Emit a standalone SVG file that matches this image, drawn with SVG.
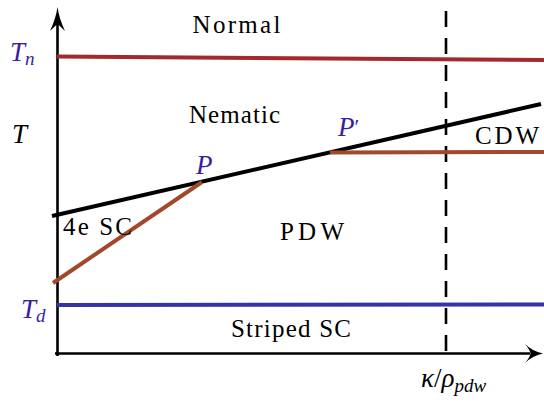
<svg xmlns="http://www.w3.org/2000/svg" width="544" height="407" viewBox="0 0 544 407">
<style>
.lbl{font-family:"Liberation Serif","DejaVu Serif",serif;font-size:25px;fill:#000}
.math{font-family:"Liberation Serif","DejaVu Serif",serif;font-style:italic;font-size:27px}
.sub{font-size:19px}
.ind{fill:#3a1ea0}
.ax{stroke:#000;stroke-width:2.6;fill:none}
.cl{stroke-width:4;fill:none;stroke-linecap:butt}
</style>
<rect width="544" height="407" fill="#fff"/>
<g id="axes">
<line class="ax" x1="57.5" y1="356" x2="57.5" y2="22"/>
<path d="M57.5,7 Q59,18 65,31 Q60,26 57.5,24 Q55,26 50,31 Q56,18 57.5,7Z" fill="#000"/>
<line class="ax" x1="55" y1="353.5" x2="530" y2="353.5"/>
<path d="M543,353.5 Q532,351 525,344 Q530,350 530.5,353.5 Q530,357 525,363 Q532,356 543,353.5Z" fill="#000"/>
<line x1="446" y1="11" x2="446" y2="354" stroke="#000" stroke-width="2.6" stroke-dasharray="16 11"/>
</g>
<g id="lines">
<line class="cl" x1="57" y1="56.5" x2="544" y2="60" stroke="#a3292e"/>
<line class="cl" x1="57" y1="305" x2="544" y2="304.5" stroke="#3434a2"/>
<line class="cl" x1="52" y1="216" x2="541" y2="104" stroke="#000"/>
<line class="cl" x1="53" y1="283" x2="202" y2="182" stroke="#a2482c"/>
<line class="cl" x1="330" y1="152.5" x2="544" y2="152" stroke="#a2482c"/>
</g>
<g id="labels">
<text class="lbl" x="192.5" y="32.5" textLength="88" lengthAdjust="spacing">Normal</text>
<text class="lbl" x="189" y="122.5" textLength="91" lengthAdjust="spacing">Nematic</text>
<text class="lbl" x="231" y="336.5" textLength="120" lengthAdjust="spacing">Striped SC</text>
<text class="lbl" x="280" y="240" textLength="64" lengthAdjust="spacing">PDW</text>
<text class="lbl" x="475" y="144" textLength="64" lengthAdjust="spacing">CDW</text>
<text class="lbl" x="63" y="235" textLength="69" lengthAdjust="spacing">4e SC</text>
<text class="math" x="12" y="143">T</text>
<text class="math ind" x="10" y="61">T<tspan class="sub" dy="4">n</tspan></text>
<text class="math ind" x="21" y="318">T<tspan class="sub" dy="4">d</tspan></text>
<text class="math ind" x="196" y="174">P</text>
<text class="math ind" x="338" y="136">P<tspan font-style="normal" font-size="22" dy="-2">′</tspan></text>
<text class="math" x="421" y="387">κ<tspan font-style="normal">/</tspan>ρ<tspan class="sub" dy="5">pdw</tspan></text>
</g>
</svg>
